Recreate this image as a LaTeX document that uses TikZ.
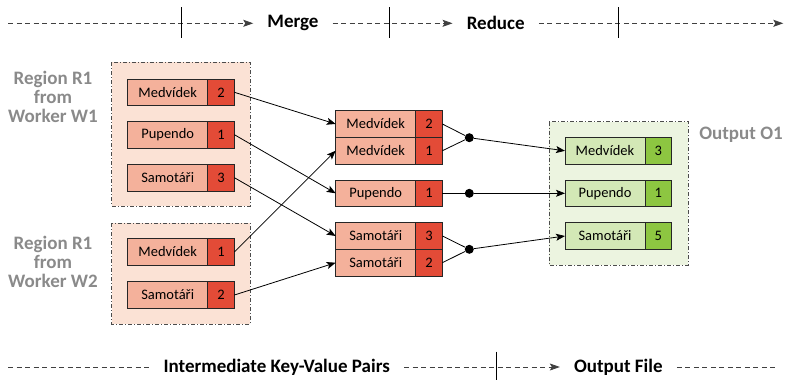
\documentclass[tikz,border=0pt]{standalone}
\usepackage{fontspec}
\setmainfont{Carlito}
\usetikzlibrary{positioning,arrows.meta}
\definecolor{keyred}{HTML}{F4B19B}
\definecolor{valred}{HTML}{E34B37}
\definecolor{regred}{HTML}{FBE2D5}
\definecolor{keygreen}{HTML}{D3E8B6}
\definecolor{valgreen}{HTML}{8DC641}
\definecolor{reggreen}{HTML}{ECF4E0}
\definecolor{labgrey}{HTML}{8A8A8A}
\tikzset{
  key/.style={draw=black!85, line width=0.8pt, outer sep=0pt, minimum width=80pt, minimum height=26.7pt, inner sep=0pt, font=\fontsize{14.5}{16}\selectfont},
  val/.style={draw=black!85, line width=0.8pt, outer sep=0pt, minimum width=26.7pt, minimum height=26.7pt, inner sep=0pt, font=\fontsize{14.5}{16}\selectfont},
  region/.style={draw=black!70, line width=0.7pt, dash pattern=on 4pt off 2pt on 1pt off 2pt},
  phase/.style={font=\fontsize{19}{20}\selectfont\bfseries, inner xsep=14pt, inner ysep=2pt},
  regionlabel/.style={font=\fontsize{19}{19}\selectfont\bfseries, text=labgrey, align=center},
  timeline/.style={draw=black!75, line width=0.8pt, dash pattern=on 5pt off 3.5pt},
  flow/.style={-{Stealth[length=9pt,width=7pt,inset=2pt]}, line width=0.8pt},
  dot/.style={circle, fill=black, minimum size=9pt, inner sep=0pt}
}
\begin{document}
\begin{tikzpicture}[x=1pt,y=-1pt]
\useasboundingbox (0,0) rectangle (786,381);
% time lines
\node[phase] (merge) at (293,23.3) {Merge};
\node[phase] (reduce) at (495.7,23.3) {Reduce};
\coordinate (t0) at (8,23.3);
\coordinate (t1) at (783.3,23.3);
\draw[timeline, -{Stealth[length=10pt,width=7pt,inset=2pt]}] (t0) -- (merge);
\draw[timeline, -{Stealth[length=10pt,width=7pt,inset=2pt]}] (merge) -- (reduce);
\draw[timeline, -{Stealth[length=10pt,width=7pt,inset=2pt]}] (reduce) -- (t1);
\draw[line width=0.8pt] (181,7.3) -- (181,38.3);
\draw[line width=0.8pt] (389,7.3) -- (389,38.3);
\draw[line width=0.8pt] (618.3,7.3) -- (618.3,38.3);
\node[phase] (inter) at (276.7,367) {Intermediate Key-Value Pairs};
\node[phase] (file) at (618.3,367) {Output File};
\coordinate (b0) at (8,367);
\coordinate (b1) at (777,367);
\draw[timeline] (b0) -- (inter);
\draw[timeline, -{Stealth[length=10pt,width=7pt,inset=2pt]}] (inter) -- (file);
\draw[timeline] (file) -- (b1);
\draw[line width=0.8pt] (496.7,351.7) -- (496.7,380);
% regions
\draw[region, fill=regred] (111.7,62.3) rectangle (250,206);
\draw[region, fill=regred] (111.7,223.3) rectangle (250,324);
\draw[region, fill=reggreen] (549.3,121.7) rectangle (688.3,265);
\node[regionlabel] (w1) at (53,96.7) {Region R1\\from\\Worker W1};
\node[regionlabel] (w2) at (53,261.7) {Region R1\\from\\Worker W2};
\node[regionlabel] (o1) at (741,134.7) {Output O1};
% worker W1
\node[key, fill=keyred] (a1) at (167.7,92.3) {Medvídek};
\node[val, fill=valred, right=0pt of a1] (a1v) {2};
\node[key, fill=keyred] (a2) at (167.7,134.7) {Pupendo};
\node[val, fill=valred, right=0pt of a2] (a2v) {1};
\node[key, fill=keyred] (a3) at (167.7,177.7) {Samotáři};
\node[val, fill=valred, right=0pt of a3] (a3v) {3};
% worker W2
\node[key, fill=keyred] (b1) at (167.7,252) {Medvídek};
\node[val, fill=valred, right=0pt of b1] (b1v) {1};
\node[key, fill=keyred] (b2) at (167.7,295) {Samotáři};
\node[val, fill=valred, right=0pt of b2] (b2v) {2};
% merged
\node[key, fill=keyred] (m1) at (375.7,124) {Medvídek};
\node[val, fill=valred, right=0pt of m1] (m1v) {2};
\node[key, fill=keyred] (m2) at (375.7,150.7) {Medvídek};
\node[val, fill=valred, right=0pt of m2] (m2v) {1};
\node[key, fill=keyred] (m3) at (375.7,193.3) {Pupendo};
\node[val, fill=valred, right=0pt of m3] (m3v) {1};
\node[key, fill=keyred] (m4) at (375.7,236) {Samotáři};
\node[val, fill=valred, right=0pt of m4] (m4v) {3};
\node[key, fill=keyred] (m5) at (375.7,262.7) {Samotáři};
\node[val, fill=valred, right=0pt of m5] (m5v) {2};
% reduce points
\node[dot] (d1) at (469.3,137.7) {};
\node[dot] (d2) at (469.3,193.3) {};
\node[dot] (d3) at (469.3,249.3) {};
% output
\node[key, fill=keygreen] (o1k) at (605,150.8) {Medvídek};
\node[val, fill=valgreen, right=0pt of o1k] (o1v) {3};
\node[key, fill=keygreen] (o2k) at (605,193.3) {Pupendo};
\node[val, fill=valgreen, right=0pt of o2k] (o2v) {1};
\node[key, fill=keygreen] (o3k) at (605,236) {Samotáři};
\node[val, fill=valgreen, right=0pt of o3k] (o3v) {5};
% connections
\draw[flow] (a1v.east) -- (m1.west);
\draw[flow] (a2v.east) -- (m3.west);
\draw[flow] (a3v.east) -- (m4.west);
\draw[flow] (b1v.east) -- (m2.west);
\draw[flow] (b2v.east) -- (m5.west);
\draw[line width=0.8pt] (m1v.east) -- (d1);
\draw[line width=0.8pt] (m2v.east) -- (d1);
\draw[line width=0.8pt] (m3v.east) -- (d2);
\draw[line width=0.8pt] (m4v.east) -- (d3);
\draw[line width=0.8pt] (m5v.east) -- (d3);
\draw[flow] (d1) -- (o1k.west);
\draw[flow] (d2) -- (o2k.west);
\draw[flow] (d3) -- (o3k.west);
\end{tikzpicture}
\end{document}
